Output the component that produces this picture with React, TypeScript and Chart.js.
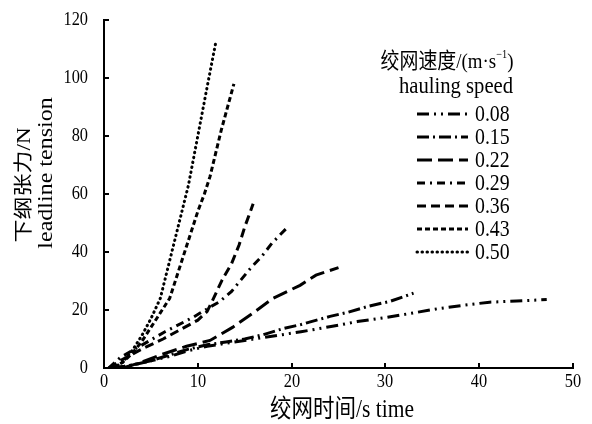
import React, { useEffect, useRef } from "react";
import { Chart, registerables } from "chart.js";

Chart.register(...registerables);

// Hauling speeds (m/s)
const speedLabels = ["0.08", "0.15", "0.22", "0.29", "0.36", "0.43", "0.50"];

// Time (s) and leadline tension (N) per speed
const t008 = [1, 3, 5, 7, 9, 11, 13, 15, 17, 19, 21, 24.2, 27, 29.8, 33, 35.5, 38, 41.1, 44, 47.2];
const f008 = [0, 1, 2.5, 4, 6, 7.5, 8.5, 9.5, 10.5, 11.5, 12.5, 14.3, 16, 17.3, 19, 20.4, 21.5, 22.7, 23.1, 23.6];

const t015 = [1, 3, 5, 7, 9, 11, 13, 15, 17, 19, 21, 24.1, 26, 28.2, 30.5, 33];
const f015 = [0, 1, 2.5, 4.5, 6.5, 8, 9, 10, 11.5, 13.5, 15, 17.8, 19.2, 21.3, 23, 25.8];

const t022 = [2, 4, 6, 8.8, 11.3, 13.7, 15.9, 18, 20.9, 22.6, 25];
const f022 = [0, 2, 4.5, 7.5, 9.5, 14, 19, 24, 28.5, 32, 34.6];

const t029 = [0.5, 1.7, 3, 4.9, 6.5, 7.7, 9.5, 11.3, 12.3, 13.6, 14.6, 15.7, 16.8, 17.9, 19.4];
const f029 = [0, 3.5, 6, 9.5, 12.5, 14.5, 17.5, 21, 22.8, 26.4, 30.4, 34.7, 38.4, 43, 48];

const t036 = [0.5, 2, 4, 6.3, 8, 10, 11, 11.6, 12.6, 13.6, 14.4, 15, 15.9];
const f036 = [0, 3, 6.5, 10, 13, 16.5, 19.5, 23.5, 30.4, 36, 42.4, 48.6, 56.6];

const t043 = [1, 2, 3, 4, 5, 6, 7, 8, 9, 10, 10.7, 11.3, 12.5, 13.85];
const f043 = [0, 2, 5, 9, 14, 19, 24, 34, 44, 54, 60, 66, 82, 98];

const t050 = [1, 2, 3, 4, 5, 6, 7, 8, 9, 10, 11, 11.9];
const f050 = [0, 2, 6, 11, 17, 24, 37, 50, 63, 80, 97, 112];

const times = [t008, t015, t022, t029, t036, t043, t050];
const forces = [f008, f015, f022, f029, f036, f043, f050];

const dashes: number[][] = [
  [12, 5, 2, 5, 2, 5],
  [12, 4, 2, 4],
  [15, 6],
  [8, 5, 2, 5],
  [9, 5],
  [5, 3],
  [0.5, 4.5],
];

const xTicks = [0, 10, 20, 30, 40, 50];
const yTicks = [0, 20, 40, 60, 80, 100, 120];

const FONT = '"Liberation Serif", "Noto Sans CJK SC", serif';
const SQ = 0.86; // horizontal squeeze of text

function txt(ctx: any, s: string, x: number, y: number, size: number, align: string, rot = false) {
  ctx.save();
  ctx.translate(x, y);
  if (rot) {
    ctx.rotate(-Math.PI / 2);
    ctx.scale(1, SQ);
  } else {
    ctx.scale(SQ, 1);
  }
  ctx.font = size + "px " + FONT;
  ctx.textAlign = align;
  ctx.textBaseline = "middle";
  ctx.fillStyle = "#000";
  ctx.fillText(s, 0, 0);
  ctx.restore();
}

function wid(ctx: any, s: string, size: number) {
  ctx.save();
  ctx.font = size + "px " + FONT;
  const w = ctx.measureText(s).width * SQ;
  ctx.restore();
  return w;
}

const overlay = {
  id: "overlay",
  afterDraw(chart: any) {
    const ctx = chart.ctx;
    const xs = chart.scales.x;
    const ys = chart.scales.y;
    const area = chart.chartArea;
    ctx.save();
    ctx.strokeStyle = "#000";
    ctx.lineWidth = 2;
    ctx.setLineDash([]);
    for (const v of yTicks) {
      const py = Math.round(ys.getPixelForValue(v));
      ctx.beginPath();
      ctx.moveTo(area.left, py);
      ctx.lineTo(area.left + 5, py);
      ctx.stroke();
      txt(ctx, String(v), area.left - 16, py, 19, "right");
    }
    for (const v of xTicks) {
      const px = Math.round(xs.getPixelForValue(v));
      ctx.beginPath();
      ctx.moveTo(px, area.bottom);
      ctx.lineTo(px, area.bottom - 5);
      ctx.stroke();
      txt(ctx, String(v), px, area.bottom + 14, 19, "center");
    }

    // axis titles
    txt(ctx, "下纲张力/N", 25, 185, 23, "center", true);
    txt(ctx, "leadline tension", 47, 173, 24, "center", true);
    txt(ctx, "绞网时间/s time", 342, 410, 25, "center");

    // legend title
    const p1 = "绞网速度/(m·s";
    const p2 = "−1";
    const p3 = ")";
    const w1 = wid(ctx, p1, 22);
    const w2 = wid(ctx, p2, 12);
    const w3 = wid(ctx, p3, 22);
    const lx = 447 - (w1 + w2 + w3) / 2;
    txt(ctx, p1, lx, 62, 22, "left");
    txt(ctx, p2, lx + w1, 55, 12, "left");
    txt(ctx, p3, lx + w1 + w2, 62, 22, "left");
    txt(ctx, "hauling speed", 456, 87, 24, "center");

    // legend rows
    speedLabels.forEach((lab, i) => {
      const y = 114 + i * 23;
      ctx.setLineDash(dashes[i]);
      ctx.lineWidth = 3;
      ctx.lineCap = i === 6 ? "round" : "butt";
      ctx.beginPath();
      ctx.moveTo(417, y);
      ctx.lineTo(468, y);
      ctx.stroke();
      ctx.setLineDash([]);
      txt(ctx, lab, 475, y + 1, 23, "left");
    });
    ctx.restore();
  },
};

export default function App() {
  const ref = useRef<HTMLCanvasElement | null>(null);
  useEffect(() => {
    if (!ref.current) return;
    const datasets = speedLabels.map((lab, i) => ({
      label: lab,
      data: times[i].map((t, j) => ({ x: t, y: forces[i][j] })),
      borderColor: "#000",
      backgroundColor: "#000",
      borderWidth: 3,
      borderDash: dashes[i],
      borderCapStyle: i === 6 ? "round" : "butt",
      pointRadius: 0,
      tension: 0,
      fill: false,
    }));
    const chart = new Chart(ref.current, {
      type: "line",
      data: { datasets } as any,
      options: {
        responsive: false,
        animation: false,
        layout: { padding: { top: 20, right: 19, left: 0, bottom: 0 } },
        plugins: { legend: { display: false }, tooltip: { enabled: false } },
        scales: {
          x: {
            type: "linear",
            min: 0,
            max: 50,
            ticks: { stepSize: 10, display: false },
            grid: { display: true, drawOnChartArea: false, drawTicks: false },
            border: { display: true, color: "#000", width: 2 },
            afterFit: (s: any) => {
              s.height = 56;
            },
          },
          y: {
            type: "linear",
            min: 0,
            max: 120,
            ticks: { stepSize: 20, display: false },
            grid: { display: true, drawOnChartArea: false, drawTicks: false },
            border: { display: true, color: "#000", width: 2 },
            afterFit: (s: any) => {
              s.width = 104;
            },
          },
        },
      } as any,
      plugins: [overlay],
    });
    return () => chart.destroy();
  }, []);
  return (
    <div style={{ position: "fixed", left: 0, top: 0, width: 592, height: 424, background: "#fff" }}>
      <canvas ref={ref} width={592} height={424} />
    </div>
  );
}
